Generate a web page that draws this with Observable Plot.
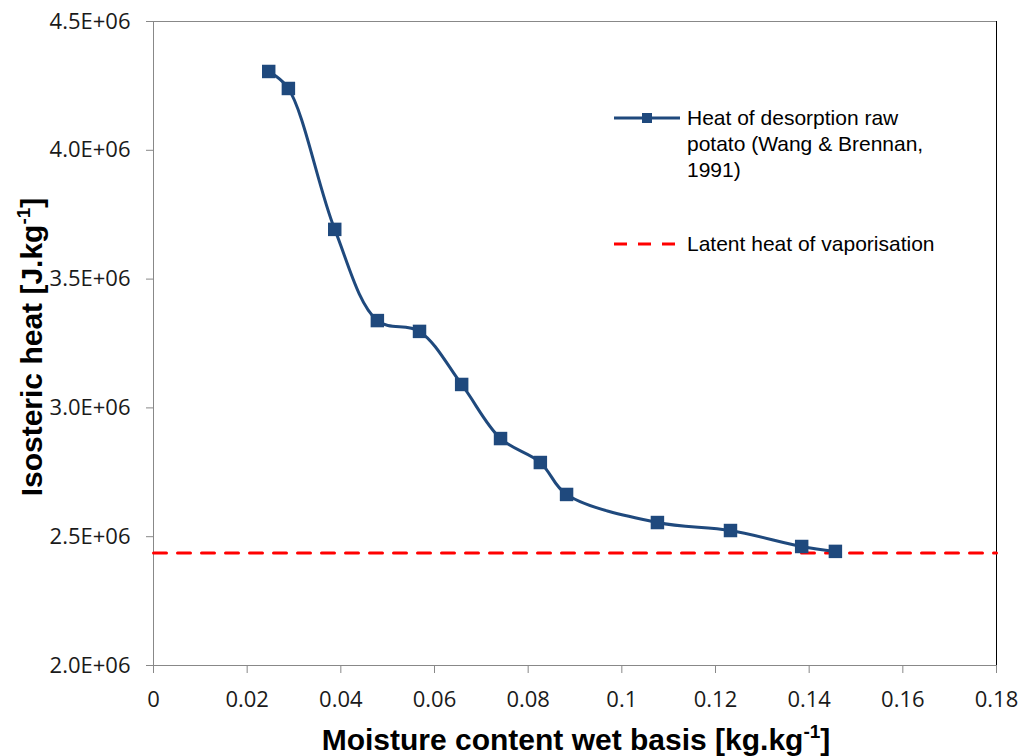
<!DOCTYPE html>
<html>
<head>
<meta charset="utf-8">
<script src="https://cdn.jsdelivr.net/npm/d3@7"></script>
<script src="https://cdn.jsdelivr.net/npm/@observablehq/plot@0.6"></script>
<style>
  html, body { margin: 0; padding: 0; background: #fff; }
  #chart { position: relative; width: 1022px; height: 756px; }
</style>
</head>
<body>
<div id="chart"></div>
<script>
// ---- Data ----
const moisture = [0.0246, 0.0288, 0.0387, 0.0478, 0.0568, 0.0658, 0.0741, 0.0826, 0.0882, 0.1076, 0.1232, 0.1384, 0.1456];
const isostericHeat = [4.306e6, 4.240e6, 3.693e6, 3.339e6, 3.297e6, 3.091e6, 2.881e6, 2.788e6, 2.664e6, 2.555e6, 2.524e6, 2.462e6, 2.443e6];
const latentX = [0, 0.18];
const latentHeat = 2.437e6;
const xTicks = [0, 0.02, 0.04, 0.06, 0.08, 0.1, 0.12, 0.14, 0.16, 0.18];
const yTicks = [2.0e6, 2.5e6, 3.0e6, 3.5e6, 4.0e6, 4.5e6];
const seriesNames = ["Heat of desorption raw potato (Wang & Brennan, 1991)", "Latent heat of vaporisation"];
const legendLines = ["Heat of desorption raw", "potato (Wang & Brennan,", "1991)"];

const desorption = moisture.map((m, i) => ({x: m, y: isostericHeat[i]}));
const latent = latentX.map(x => ({x, y: latentHeat}));

const blue = "#1F497D";
const tickFont = "'Open Sans', sans-serif";
const xFmt = d => String(+d.toFixed(2));
const yFmt = d => (d / 1e6).toFixed(1) + "E+06";

const plot = Plot.plot({
  width: 1022,
  height: 756,
  marginLeft: 153,
  marginRight: 26,
  marginTop: 21,
  marginBottom: 91,
  style: {background: "#fff", fontFamily: tickFont, color: "#000"},
  x: {domain: [0, 0.18], label: null},
  y: {domain: [2.0e6, 4.5e6], label: null},
  marks: [
    Plot.ruleY([4.5e6], {stroke: "#888", strokeWidth: 1}),
    Plot.ruleX([0.18], {stroke: "#000", strokeWidth: 1}),
    Plot.axisX({ticks: xTicks, tickFormat: xFmt, tickSize: 8, tickPadding: 18, fontSize: 22, stroke: "#888", fill: "#1a1a1a", label: null}),
    Plot.axisY({ticks: yTicks, tickFormat: yFmt, tickSize: 7, tickPadding: 16, fontSize: 22, stroke: "#888", fill: "#1a1a1a", label: null}),
    Plot.ruleX([0], {stroke: "#888", strokeWidth: 1}),
    Plot.ruleY([2.0e6], {stroke: "#888", strokeWidth: 1}),
    Plot.line(latent, {x: "x", y: "y", stroke: "#FF0000", strokeWidth: 3, strokeDasharray: "13,11"}),
    Plot.line(desorption, {x: "x", y: "y", curve: "catmull-rom", stroke: blue, strokeWidth: 3}),
    Plot.dot(desorption, {x: "x", y: "y", symbol: "square", fill: blue, r: 7.6, stroke: "none"})
  ]
});

document.getElementById("chart").appendChild(plot);

// ---- Axis titles with superscripts ----
const svg = d3.select(plot);
const titleFont = "'Liberation Sans', Arial, sans-serif";

const xt = svg.append("text")
  .attr("x", 576).attr("y", 750)
  .attr("text-anchor", "middle")
  .attr("font-family", titleFont).attr("font-weight", "bold").attr("font-size", 30)
  .attr("fill", "#000");
xt.append("tspan").text("Moisture content wet basis [kg.kg");
xt.append("tspan").attr("font-size", 19).attr("dy", -12).text("-1");
xt.append("tspan").attr("dy", 12).text("]");

const yt = svg.append("text")
  .attr("transform", "translate(42,347) rotate(-90)")
  .attr("text-anchor", "middle")
  .attr("font-family", titleFont).attr("font-weight", "bold").attr("font-size", 30)
  .attr("fill", "#000");
yt.append("tspan").text("Isosteric heat [J.kg");
yt.append("tspan").attr("font-size", 19).attr("dy", -12).text("-1");
yt.append("tspan").attr("dy", 12).text("]");

// ---- Legend (inside plot area) ----
const lg = svg.append("g").attr("font-family", titleFont).attr("font-size", 21)
  .attr("fill", "#000").attr("text-anchor", "start");
lg.append("line").attr("x1", 614).attr("x2", 680).attr("y1", 118).attr("y2", 118)
  .attr("stroke", blue).attr("stroke-width", 3);
lg.append("rect").attr("x", 642).attr("y", 113).attr("width", 10).attr("height", 10).attr("fill", blue);
const l1 = lg.append("text").attr("x", 687).attr("y", 125);
legendLines.forEach((t, i) => {
  l1.append("tspan").attr("x", 687).attr("dy", i === 0 ? 0 : 26).text(t);
});
lg.append("line").attr("x1", 614).attr("x2", 678).attr("y1", 244).attr("y2", 244)
  .attr("stroke", "#FF0000").attr("stroke-width", 3).attr("stroke-dasharray", "13,11");
lg.append("text").attr("x", 687).attr("y", 251).text(seriesNames[1]);
</script>
</body>
</html>
